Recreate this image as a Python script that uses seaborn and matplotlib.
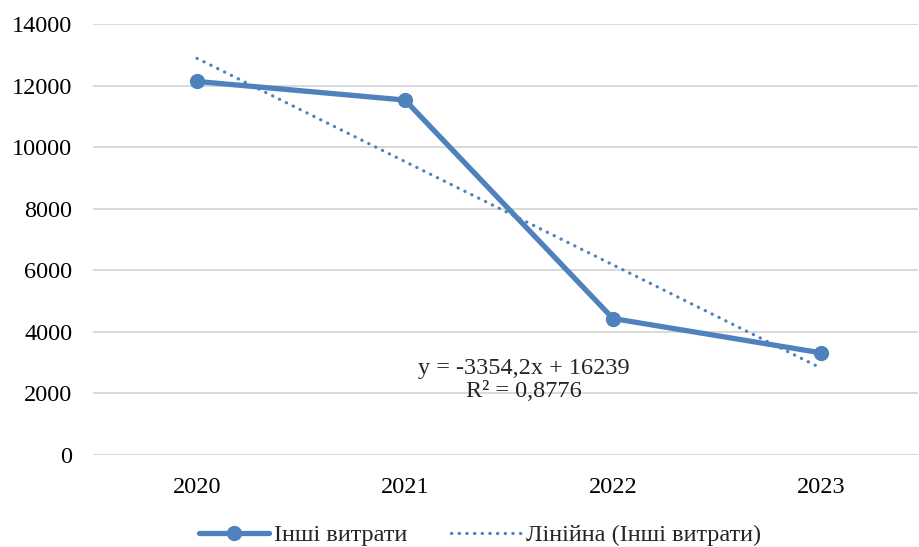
import matplotlib
matplotlib.use("Agg")
import matplotlib.pyplot as plt
import numpy as np
import pandas as pd
import seaborn as sns

# дані
years = ["2020", "2021", "2022", "2023"]
x_pos = [1, 2, 3, 4]
other_costs = [12133.5, 11529.5, 4432.5, 3318.5]

series_label = "Інші витрати"
trend_label = "Лінійна (Інші витрати)"

sns.set_theme(style="white")
plt.rcParams["font.family"] = ["Liberation Serif", "DejaVu Serif"]

blue = "#4F81BD"
fs = 17.5

df = pd.DataFrame({"x": x_pos, "value": other_costs})
slope, intercept = np.polyfit(df["x"], df["value"], 1)
fitted = slope * df["x"] + intercept
r2 = 1 - ((df["value"] - fitted) ** 2).sum() / ((df["value"] - df["value"].mean()) ** 2).sum()
trend = pd.DataFrame({"x": x_pos, "value": fitted})

fig = plt.figure(figsize=(9.19, 5.47), dpi=100)
ax = fig.add_axes([93 / 919, 1 - 455 / 547, (918 - 93) / 919, (455 - 24) / 547])

sns.lineplot(data=df, x="x", y="value", ax=ax, color=blue, linewidth=3.8,
             marker="o", markersize=11, markeredgewidth=0, label=series_label,
             solid_capstyle="round")
sns.lineplot(data=trend, x="x", y="value", ax=ax, color=blue, linewidth=2.3,
             linestyle=(0, (0.1, 2.3)), dash_capstyle="round", label=trend_label)

ax.set_xlim(0.5, 0.5 + (918 - 93) / 208)
ax.set_ylim(0, 14000)
ax.set_yticks(range(0, 14001, 2000))
ax.set_xticks(x_pos)
ax.set_xticklabels(years)
ax.set_xlabel("")
ax.set_ylabel("")
ax.grid(axis="y", color="#D9D9D9", linewidth=1.4)
ax.set_axisbelow(True)
for s in ax.spines.values():
    s.set_visible(False)
ax.tick_params(axis="both", length=0, labelsize=fs, colors="black")
ax.tick_params(axis="y", pad=15)
ax.tick_params(axis="x", pad=16)

eq = "y = {}x + {:.0f}".format(f"{slope:.1f}".replace(".", ","), intercept)
ax.text(2.57, 2440, eq + "\n" + "R² = " + f"{r2:.4f}".replace(".", ","),
        ha="center", va="center", fontsize=fs, linespacing=1.1)

ax.legend_.remove()
handles, labels = ax.get_legend_handles_labels()
fig.legend(handles, labels, loc="center", bbox_to_anchor=(480 / 919, 1 - 535 / 547),
           ncol=2, frameon=False, fontsize=fs, handlelength=2.9,
           handletextpad=0.2, columnspacing=1.8)

fig.savefig("out.png", dpi=100)
